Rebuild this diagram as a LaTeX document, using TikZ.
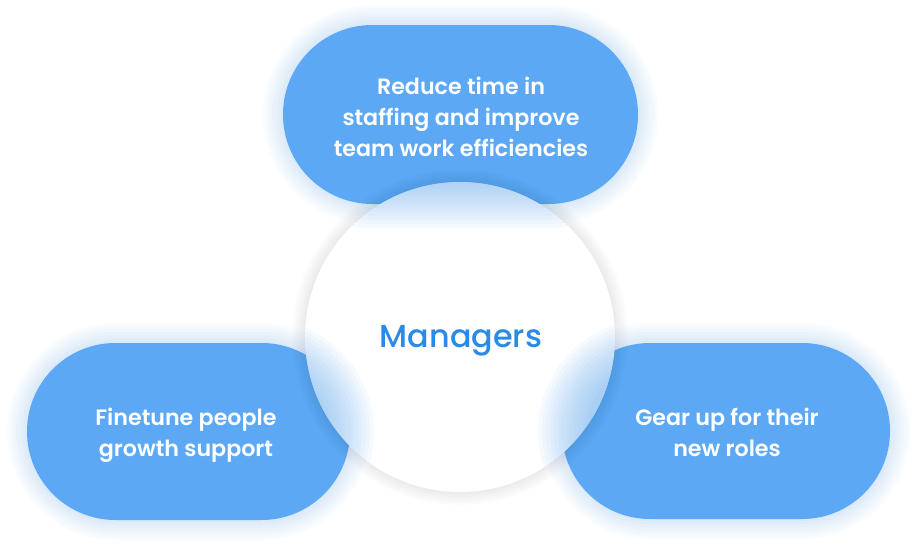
\documentclass[tikz,border=0pt]{standalone}
\usepackage{fontspec}
\newfontfamily\pillfont{Poppins SemiBold}
\newfontfamily\midfont{Poppins Medium}
\definecolor{pillblue}{RGB}{92,168,245}
\definecolor{midblue}{RGB}{42,138,232}
\newcommand\pillpath[6]{%
  \path[#6, rounded corners={(#4)/2+(#5)-0.05}]
    ({#1-(#3)/2-(#5)},{#2-(#4)/2-(#5)}) rectangle ({#1+(#3)/2+(#5)},{#2+(#4)/2+(#5)});}
\tikzset{
  pilltext/.style={text=white, align=center, font=\pillfont\fontsize{22.2}{31}\selectfont},
  midtext/.style={text=midblue, font=\midfont\fontsize{31.8}{36}\selectfont}
}
\begin{document}
\begin{tikzpicture}[x=1pt,y=-1pt]
\useasboundingbox (0,0) rectangle (917,549);
\fill[white] (0,0) rectangle (917,549);
% outer glows of pills
\foreach \d in {2,5,...,20}{
  \pillpath{460.5}{114.5}{355}{179}{\d}{fill=pillblue, fill opacity=0.03}
  \pillpath{188.5}{431.5}{323}{177}{\d}{fill=pillblue, fill opacity=0.03}
  \pillpath{726}{431}{328}{176}{\d}{fill=pillblue, fill opacity=0.03}
}
% pills
\pillpath{460.5}{114.5}{355}{179}{0}{fill=pillblue}
\pillpath{188.5}{431.5}{323}{177}{0}{fill=pillblue}
\pillpath{726}{431}{328}{176}{0}{fill=pillblue}
% circle shadow
\foreach \d in {1,3,...,13}{
  \fill[black, fill opacity=0.01] (460,337) circle ({155+\d});
}
\fill[white] (460,337) circle (155);
% frosted blur of pills inside the circle
\begin{scope}
  \clip (460,337) circle (155);
  \foreach \d in {-24,-20,...,24}{
    \pillpath{460.5}{114.5}{355}{179}{\d}{fill=pillblue, fill opacity=0.05}
    \pillpath{188.5}{431.5}{323}{177}{\d}{fill=pillblue, fill opacity=0.05}
    \pillpath{726}{431}{328}{176}{\d}{fill=pillblue, fill opacity=0.05}
  }
\end{scope}
\node[circle, minimum size=310pt] (mgr) at (460,337) {};
\node[midtext] (mgrlabel) at (461,341) {Managers};
\node[pilltext] (top) at (461,117) {Reduce time in\\staffing and improve\\team work efficiencies};
\node[pilltext] (left) at (186,435) {Finetune people\\growth support};
\node[pilltext] (right) at (727,432) {Gear up for their\\new roles};
\end{tikzpicture}
\end{document}
